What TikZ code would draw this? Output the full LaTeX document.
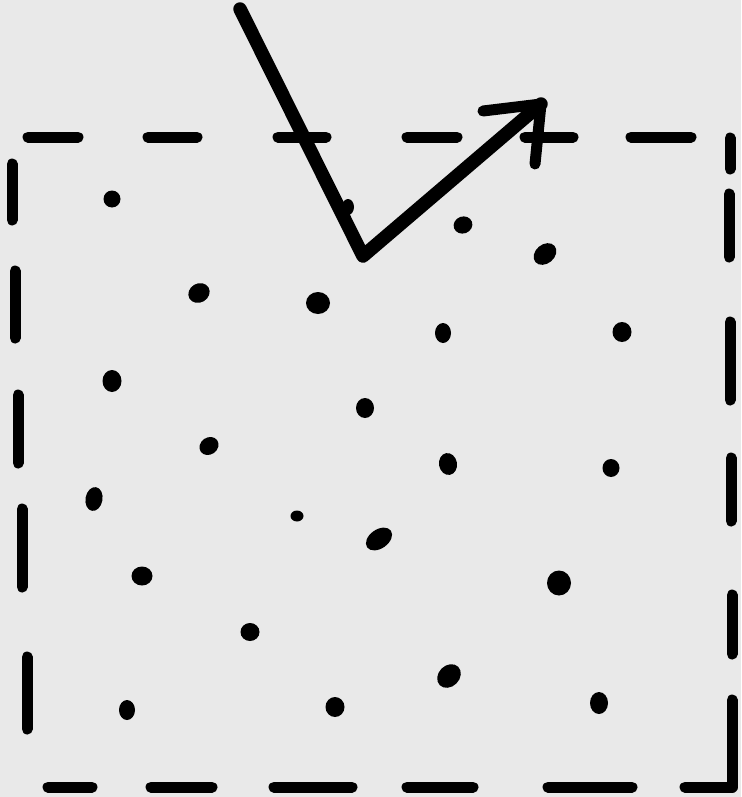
\documentclass[tikz,border=0pt]{standalone}
\definecolor{bgc}{RGB}{233,233,233}
\begin{document}
\begin{tikzpicture}[x=1pt,y=-1pt,
  dashseg/.style={line width=11pt, line cap=round, line join=round, black},
  shaft/.style={line width=13.5pt, line cap=round, line join=round, black},
  headstroke/.style={line width=11pt, line cap=round, line join=round, black},
  dot/.style={fill=black}]
\fill[bgc] (0,0) rectangle (741,797);
\useasboundingbox (0,0) rectangle (741,797);
% top edge
\foreach \a/\b in {28/78, 148/197, 278/326, 407/457, 525/573, 631/691}
  \draw[dashseg] (\a,137) -- (\b,137);
% right edge
\draw[dashseg] (730,138) -- (730,169);
\draw[dashseg] (729,194) -- (729,257);
\draw[dashseg] (730,322) -- (730,400);
\draw[dashseg] (731,458) -- (731,521);
\draw[dashseg] (732,595) -- (732,654);
\draw[dashseg] (732,700) -- (732,787) -- (685,787);
% bottom edge
\foreach \a/\b in {48/92, 151/212, 274/352, 407/473, 548/632}
  \draw[dashseg] (\a,787) -- (\b,787);
% left edge
\draw[dashseg] (12,164) -- (12,220);
\draw[dashseg] (15,271) -- (15,338);
\draw[dashseg] (18,395) -- (18,463);
\draw[dashseg] (22,509) -- (22,587);
\draw[dashseg] (27,657) -- (27,729);
% dots
\foreach \x/\y/\rx/\ry/\r in {
  112/199/8.5/8.5/0, 199/293/11/9.5/30, 318/303/12/11/0, 112/381/9.5/11/0,
  365/408/9/10/0, 209/446/10/8.5/35, 348/207/6/8/0, 463/225/9.5/8.5/20,
  545/254/12.5/9.5/40, 443/333/8/10/0, 622/332/9.5/10/0, 448/464/9/11/10,
  611/468/8.5/9/0, 94/499/8.5/12/-10, 297/516/6.5/5.5/0, 379/539/14.5/9.5/35,
  142/576/10.5/9.5/0, 250/632/9.5/9/0, 127/710/8/10/0, 335/707/9.5/10/0,
  559/583/12/12.5/0, 449/676/13/10.5/45, 599/703/9/11/0}
  \fill[dot, rotate around={\r:(\x,\y)}] (\x,\y) ellipse [x radius=\rx, y radius=\ry];
% arrow
\coordinate (start) at (240,9);
\coordinate (bend) at (363,256);
\coordinate (tip) at (541,104);
\coordinate (headL) at (483,111);
\coordinate (headD) at (535,164);
\draw[shaft] (start) -- (bend) -- (tip);
\draw[headstroke] (headL) -- (tip) -- (headD);
\end{tikzpicture}
\end{document}
